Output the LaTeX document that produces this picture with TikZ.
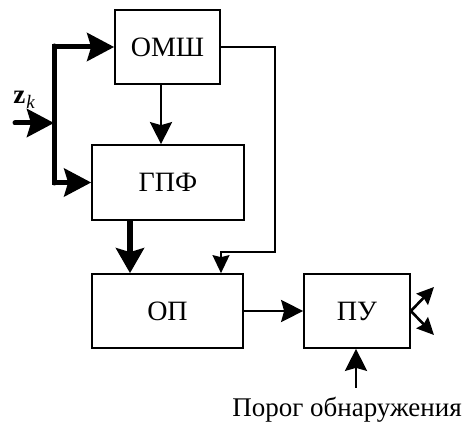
\documentclass[tikz,border=0pt]{standalone}
\usepackage{fontspec}
\setmainfont{Liberation Serif}
\usetikzlibrary{arrows.meta}

\tikzset{
    blok/.style={draw, line width=1.7pt, minimum width=#1, inner sep=0pt},
    blok/.default=105pt,
    tyk/.style={line width=5pt, -{Stealth[length=27pt, width=28pt, inset=4pt]}},
    sred/.style={line width=2.8pt, -{Stealth[length=22pt, width=22pt, inset=3pt]}},
    ton/.style={line width=1.5pt, -{Stealth[length=18pt, width=17pt, inset=2pt]}},
}

\begin{document}
\begin{tikzpicture}[x=1pt, y=-1pt, font=\fontsize{28}{33}\selectfont]
\useasboundingbox (0, 0) rectangle (467, 425);

\node[blok=105pt, minimum height=74pt] (omsh) at (167.5, 47) {ОМШ};
\node[blok=152pt, minimum height=75pt] (gpf) at (168, 182.5) {ГПФ};
\node[blok=151pt, minimum height=74pt] (op) at (167.5, 311) {ОП};
\node[blok=106pt, minimum height=74pt] (pu) at (357, 311) {ПУ};

\coordinate (vhod) at (15, 123);
\coordinate (uzel) at (54, 123);
\coordinate (povorot) at (275, 252);
\coordinate (vyh1) at (434, 287);
\coordinate (vyh2) at (434, 335);
\coordinate (porog) at (356, 388);

\node[font=\fontsize{27}{30}\selectfont, inner sep=0pt] (zk) at (24, 100)
    {$\mathbf{z}$\kern1pt\raisebox{-5pt}{\fontsize{19}{20}\selectfont\itshape k}};
\node[font=\fontsize{27}{32}\selectfont] (porogtxt) at (347, 410) {Порог обнаружения};

\draw[tyk, line cap=round] (vhod) -- (uzel);
\draw[tyk] (uzel) |- (omsh.west);
\draw[tyk] (uzel) |- (gpf.west);
\draw[line width=5pt, line cap=round] (54, 46) -- (54, 183);

\draw[sred] ([xshift=-6.5pt]omsh.south) -- ([xshift=-6.5pt]omsh.south |- gpf.north);
\draw[line width=6pt, -{Stealth[length=25pt, width=28pt, inset=4pt]}] ([xshift=-38pt]gpf.south) -- ([xshift=-38pt]gpf.south |- op.north);
\draw[ton] (omsh.east) -| (povorot) -| ([xshift=53.5pt]op.north);
\draw[sred] (op.east) -- (pu.west);

\draw[line width=2.6pt, -{Stealth[length=17pt, width=16pt, inset=2pt]}] (pu.east) -- (vyh1);
\draw[line width=2.6pt, -{Stealth[length=17pt, width=16pt, inset=2pt]}] (pu.east) -- (vyh2);
\draw[sred] (porog) -- (porog |- pu.south);

\end{tikzpicture}
\end{document}
